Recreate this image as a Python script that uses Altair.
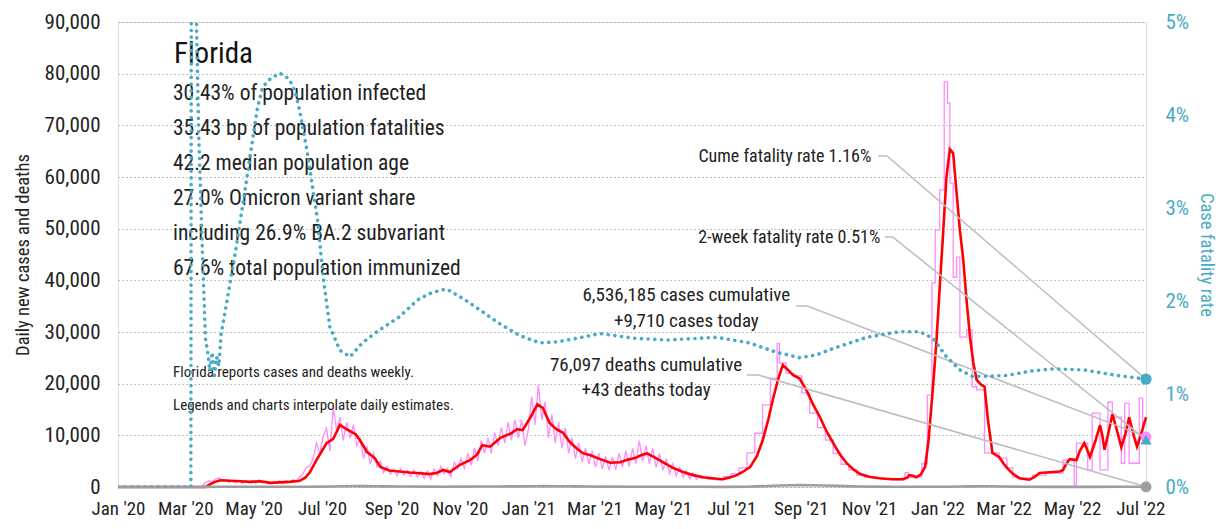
import altair as alt
import pandas as pd

START = pd.Timestamp("2020-01-01")


def to_dates(days):
    return [(START + pd.Timedelta(days=int(d))).strftime("%Y-%m-%d") for d in days]


# ---------------- data (day offset from 2020-01-01, value) ----------------
# 7-day average of daily new cases (red)
avg_points = [
    (0, 0), (78, 0), (82, 500), (86, 950), (91, 1300), (100, 1200), (109, 1100), (118, 1000),
    (127, 1100), (136, 800), (144, 900), (153, 1000), (162, 1200), (167, 1800), (171, 2800),
    (177, 5200), (182, 7000), (186, 8500), (192, 9300), (198, 12000), (203, 11300), (207, 10800),
    (212, 10200), (216, 9000), (222, 6800), (229, 5600), (234, 3900), (242, 3200), (251, 3000),
    (260, 2800), (267, 2700), (278, 2500), (284, 2700), (290, 3300), (296, 2900), (305, 4300),
    (314, 5200), (320, 6200), (325, 8100), (332, 7800), (341, 9500), (350, 10300), (356, 11200),
    (361, 11000), (368, 13500), (374, 16000), (379, 15300), (385, 12400), (391, 11200),
    (397, 10500), (403, 8700), (409, 7500), (415, 6500), (421, 6200), (430, 5400), (439, 4700),
    (448, 4800), (455, 5300), (461, 5600), (467, 6200), (472, 6500), (479, 5700), (486, 4800),
    (495, 3700), (504, 2900), (513, 2300), (522, 1900), (530, 1700), (539, 1500), (545, 1800),
    (552, 2300), (558, 3000), (564, 3900), (570, 6000), (575, 9000), (580, 13000), (584, 16800),
    (589, 21000), (593, 23600), (597, 22800), (602, 21700), (608, 21000), (614, 18800),
    (620, 16000), (626, 13600), (632, 10800), (638, 8500), (644, 6300), (650, 4600), (656, 3400),
    (662, 2500), (670, 2000), (679, 1700), (690, 1500), (700, 1500), (704, 1800), (706, 2300),
    (709, 2200), (712, 1900), (716, 2400), (720, 3900), (723, 9000), (727, 19400), (730, 28000),
    (733, 38700), (736, 49000), (739, 60000), (742, 65400), (745, 64600), (748, 57000),
    (751, 49700), (754, 43900), (757, 36000), (760, 29000), (763, 24000), (766, 20700),
    (770, 19800), (773, 19400), (776, 13000), (780, 6600), (783, 6200), (786, 5800), (790, 4500),
    (793, 3700), (798, 2600), (804, 1700), (813, 1400), (818, 2000), (822, 2700), (828, 2800),
    (834, 2900), (840, 3000), (843, 3300), (846, 4500), (849, 5400), (852, 5300), (855, 5200),
    (858, 7000), (862, 8500), (864, 7500), (867, 5800), (872, 9000), (876, 12000), (878, 10000),
    (880, 7200), (884, 11000), (887, 14100), (891, 11000), (895, 7700), (899, 10500),
    (902, 13500), (906, 10000), (909, 7800), (913, 10500), (917, 13500),
]

# daily new cases while reported daily (pink)
daily_points = [
    (0, 0), (74, 0), (75, 200), (78, 800), (81, 1200), (84, 1000), (87, 1500), (90, 1800),
    (93, 1200), (96, 1400), (99, 900), (102, 1300), (105, 800), (108, 1300), (111, 700),
    (114, 1200), (117, 900), (120, 1300), (123, 700), (126, 1400), (129, 800), (132, 1100),
    (135, 600), (138, 1000), (141, 700), (144, 1200), (147, 700), (150, 1300), (153, 900),
    (156, 1400), (159, 1100), (162, 1900), (165, 2600), (168, 3800), (171, 4000), (174, 5500),
    (177, 8500), (180, 6500), (183, 9800), (186, 11400), (189, 7000), (192, 15300), (195, 11000),
    (198, 13500), (201, 9000), (204, 12500), (207, 9500), (210, 12000), (213, 8000), (216, 9500),
    (219, 5500), (222, 8000), (225, 4500), (228, 6500), (231, 4000), (234, 5000), (237, 2800),
    (240, 4000), (243, 2500), (246, 3400), (249, 2200), (252, 3600), (255, 2300), (258, 3200),
    (261, 2000), (264, 3300), (267, 1900), (270, 3000), (273, 1700), (276, 3100), (279, 1500),
    (282, 3500), (285, 2200), (288, 4000), (291, 2500), (294, 3600), (297, 2000), (300, 4800),
    (303, 3500), (306, 5500), (309, 3600), (312, 6500), (315, 4200), (318, 7500), (321, 5000),
    (324, 9000), (327, 6500), (330, 9500), (333, 6500), (336, 10500), (339, 8000), (342, 11500),
    (345, 8500), (348, 12500), (351, 9000), (354, 13000), (357, 9500), (360, 13000), (363, 8000),
    (366, 11000), (369, 17500), (372, 12000), (375, 19800), (378, 13000), (381, 16500),
    (384, 9500), (387, 14000), (390, 8500), (393, 12500), (396, 7500), (399, 11500), (402, 6500),
    (405, 9500), (408, 5500), (411, 8500), (414, 4800), (417, 7500), (420, 4500), (423, 7000),
    (426, 3800), (429, 6500), (432, 3500), (435, 6000), (438, 3200), (441, 5800), (444, 3300),
    (447, 6500), (450, 3800), (453, 7000), (456, 4000), (459, 7500), (462, 4500), (465, 9000),
    (468, 5000), (471, 8000), (474, 4500), (477, 7500), (480, 3800), (483, 6500), (486, 3200),
    (489, 5500), (492, 2600), (495, 4500), (498, 2200), (501, 3800), (504, 1900), (507, 3200),
    (510, 1600), (513, 2700), (516, 1500), (519, 2200),
]

# daily new cases once reported weekly (pink, stepped)
weekly_points = [
    (519, 1700), (526, 1500), (533, 1400), (540, 2000), (547, 2600), (554, 3700), (561, 6600),
    (568, 10400), (575, 15900), (582, 21000), (588, 27800), (590, 24000), (596, 22000),
    (603, 21500), (610, 18200), (617, 14300), (624, 11500), (631, 9100), (638, 6500),
    (645, 4400), (652, 3300), (659, 2300), (666, 1900), (673, 1700), (680, 1600), (687, 1500),
    (694, 1400), (702, 2800), (705, 1800), (712, 1900), (717, 4500), (722, 17800), (726, 39500),
    (729, 49700), (733, 57500), (737, 78400), (740, 74300), (742, 58800), (745, 40600),
    (748, 44500), (751, 29000), (757, 30400), (762, 19400), (766, 18800), (773, 6600),
    (786, 5600), (793, 3700), (798, 1900), (804, 1700), (816, 2300), (828, 2700), (843, 5200),
    (853, 400), (855, 8500), (865, 3300), (869, 14300), (876, 3300), (883, 16400), (887, 13500),
    (895, 4600), (898, 16200), (902, 4600), (911, 17200), (914, 10400), (917, 10400),
]

# daily deaths (grey)
death_points = [
    (0, 0), (66, 0), (70, 10), (80, 30), (90, 45), (100, 50), (110, 45), (120, 40), (130, 45),
    (140, 35), (150, 40), (160, 35), (170, 40), (180, 70), (190, 110), (200, 150), (210, 180),
    (220, 170), (230, 150), (240, 120), (250, 100), (260, 90), (270, 80), (280, 70), (290, 60),
    (300, 70), (310, 80), (320, 90), (330, 100), (340, 110), (350, 120), (360, 130), (370, 150),
    (380, 160), (390, 150), (400, 140), (410, 120), (420, 100), (430, 80), (440, 70), (460, 60),
    (480, 60), (500, 50), (520, 40), (540, 30), (560, 60), (570, 120), (580, 200), (590, 300),
    (600, 350), (610, 380), (620, 350), (630, 300), (640, 230), (650, 160), (660, 110),
    (670, 70), (690, 45), (710, 35), (730, 40), (740, 60), (750, 100), (760, 130), (770, 150),
    (780, 140), (790, 100), (800, 70), (810, 50), (830, 30), (850, 25), (870, 30), (890, 35),
    (917, 43),
]

# case fatality rate, percent (teal dotted, right axis)
cfr_points = [
    (0, 0), (65, 0), (66, 14), (69, 14), (70, 5.0), (72, 3.8), (75, 2.65), (78, 1.6), (80, 1.45),
    (82, 1.25), (84, 1.45), (86, 1.2), (88, 1.4), (90, 1.3), (92, 1.65), (95, 1.85), (100, 2.2),
    (106, 2.62), (115, 3.33), (124, 4.05), (129, 4.3), (135, 4.38), (140, 4.42), (144, 4.45),
    (149, 4.42), (153, 4.38), (158, 4.25), (162, 4.05), (169, 3.59), (178, 2.87), (183, 2.26),
    (189, 1.72), (198, 1.47), (207, 1.40), (218, 1.55), (231, 1.67), (251, 1.83), (267, 2.01),
    (280, 2.09), (293, 2.13), (310, 2.01), (340, 1.76), (358, 1.63), (376, 1.55), (391, 1.56),
    (410, 1.60), (430, 1.65), (460, 1.60), (490, 1.58), (534, 1.61), (563, 1.55), (587, 1.45),
    (608, 1.39), (623, 1.42), (638, 1.49), (668, 1.61), (697, 1.67), (715, 1.67), (727, 1.60),
    (739, 1.40), (751, 1.26), (762, 1.19), (775, 1.19), (793, 1.20), (816, 1.25), (834, 1.27),
    (861, 1.26), (891, 1.20), (917, 1.16),
]

LAST_DAY = 917
CUME_CFR = 1.16
TWO_WEEK_CFR = 0.51
CASES_TODAY = 9710
DEATHS_TODAY = 43
Y_MAX = 90000
CFR_MAX = 5

stats_lines = [
    "30.43% of population infected",
    "35.43 bp of population fatalities",
    "42.2 median population age",
    "27.0% Omicron variant share",
    "including 26.9% BA.2 subvariant",
    "67.6% total population immunized",
]
note_lines = [
    "Florida reports cases and deaths weekly.",
    "Legends and charts interpolate daily estimates.",
]
tick_months = [(2020, m) for m in (1, 3, 5, 7, 9, 11)] + \
              [(2021, m) for m in (1, 3, 5, 7, 9, 11)] + [(2022, m) for m in (1, 3, 5, 7)]


def frame(points):
    days = [p[0] for p in points]
    vals = [p[1] for p in points]
    return pd.DataFrame({"date": to_dates(days), "value": vals})


FONT = "Liberation Sans Narrow, Roboto Condensed, DejaVu Sans Condensed, sans-serif"
TEAL = "#48abc6"
PINK = "#ff8cff"
RED = "#ff0000"
GREY = "#9e9e9e"
LEADER = "#bdbdbd"
INK = "#222222"

x_enc = alt.X(
    "date:T",
    title=None,
    scale=alt.Scale(
        type="utc",
        domain=[alt.DateTime(year=2020, month=1, date=1, utc=True),
                alt.DateTime(year=2022, month=7, date=6, utc=True)],
    ),
    axis=alt.Axis(
        values=[alt.DateTime(year=y, month=m, date=1, utc=True) for y, m in tick_months],
        format="%b '%y", labelFontSize=19, labelColor=INK, labelPadding=12,
        labelOverlap=False, labelFlush=False,
        grid=False, domain=False, ticks=False, tickSize=0, labelFont=FONT,
    ),
)
y_left = alt.Y(
    "value:Q",
    scale=alt.Scale(domain=[0, Y_MAX], nice=False),
    axis=alt.Axis(
        values=list(range(0, Y_MAX + 1, 10000)), format=",d", title="Daily new cases and deaths",
        titleFontSize=18.5, titleFontWeight="normal", titleColor=INK, titlePadding=12,
        labelFontSize=21, labelColor=INK, labelPadding=18, domain=False, ticks=False,
        tickSize=0, grid=True, gridColor="#b0b0b0", gridDash=[1.5, 2.5], gridWidth=1,
        labelFont=FONT, titleFont=FONT, labelOverlap=False,
    ),
)

daily_df = frame(daily_points)
weekly_df = frame(weekly_points)
avg_df = frame(avg_points)
death_df = frame(death_points)
cfr_df = frame(cfr_points)
one_row = pd.DataFrame({"k": [0]})

pink_daily = alt.Chart(daily_df).mark_line(color=PINK, strokeWidth=1.3).encode(x=x_enc, y=y_left)
pink_weekly = alt.Chart(weekly_df).mark_line(color=PINK, strokeWidth=1.3, interpolate="step-after").encode(
    x=x_enc, y=y_left)
red_line = alt.Chart(avg_df).mark_line(color=RED, strokeWidth=2.6).encode(x=x_enc, y=y_left)
grey_line = alt.Chart(death_df).mark_line(color=GREY, strokeWidth=2.6).encode(x=x_enc, y=y_left)


# conversion of a fatality rate into left-axis units (both axes share the plot height)
def cfr_to_left(v):
    return v / CFR_MAX * Y_MAX


# leader lines: text end -> bend -> marker
leader_rows = []
leaders = [
    ("cume", [(678, 64060), (686, 64060), (LAST_DAY, cfr_to_left(CUME_CFR))]),
    ("two", [(684, 48380), (691, 48380), (LAST_DAY, cfr_to_left(TWO_WEEK_CFR))]),
    ("cases", [(605, 35030), (615, 35030), (LAST_DAY, CASES_TODAY)]),
    ("deaths", [(561, 21680), (571, 21680), (LAST_DAY, DEATHS_TODAY)]),
]
for name, pts in leaders:
    for i, (d, v) in enumerate(pts):
        leader_rows.append({"id": name, "order": i, "date": to_dates([d])[0], "value": v})
leader_df = pd.DataFrame(leader_rows)
leader_lines = alt.Chart(leader_df).mark_line(color=LEADER, strokeWidth=1.5).encode(
    x=x_enc, y=y_left, detail="id:N", order="order:Q")

right_labels = pd.DataFrame({
    "date": to_dates([672, 680]),
    "value": [63870, 48190],
    "label": [f"Cume fatality rate {CUME_CFR:.2f}%", f"2-week fatality rate {TWO_WEEK_CFR:.2f}%"],
})
center_labels = pd.DataFrame({
    "date": to_dates([507, 507, 471, 471]),
    "value": [37160, 32130, 23610, 18770],
    "label": ["6,536,185 cases cumulative", f"+{CASES_TODAY:,} cases today",
              "76,097 deaths cumulative", f"+{DEATHS_TODAY} deaths today"],
})
txt_right = alt.Chart(right_labels).mark_text(
    align="right", baseline="middle", fontSize=18, font=FONT, color=INK).encode(
    x=x_enc, y=y_left, text="label:N")
txt_center = alt.Chart(center_labels).mark_text(
    align="center", baseline="middle", fontSize=19, font=FONT, color=INK).encode(
    x=x_enc, y=y_left, text="label:N")

title_txt = alt.Chart(one_row).mark_text(
    align="left", baseline="alphabetic", fontSize=29, font=FONT, color="#111111").encode(
    x=alt.value(56), y=alt.value(41), text=alt.value("Florida"))
stats_txt = alt.Chart(one_row).mark_text(
    align="left", baseline="alphabetic", fontSize=21.5, font=FONT, color=INK, lineHeight=35).encode(
    x=alt.value(55), y=alt.value(78), text=alt.value(stats_lines))
note_txt = alt.Chart(one_row).mark_text(
    align="left", baseline="alphabetic", fontSize=15, font=FONT, color=INK, lineHeight=33).encode(
    x=alt.value(55), y=alt.value(355), text=alt.value(note_lines))

end_left = pd.DataFrame({
    "date": to_dates([LAST_DAY, LAST_DAY]),
    "value": [DEATHS_TODAY, CASES_TODAY],
    "kind": ["deaths", "cases"],
})
end_left_pts = alt.Chart(end_left).mark_point(filled=True, size=120, opacity=1).encode(
    x=x_enc, y=y_left,
    color=alt.Color("kind:N", scale=alt.Scale(domain=["deaths", "cases"], range=[GREY, PINK]), legend=None))

left_group = alt.layer(
    pink_daily, pink_weekly, red_line, grey_line, leader_lines, txt_right, txt_center,
    title_txt, stats_txt, note_txt, end_left_pts,
)

y_right = alt.Y(
    "value:Q",
    scale=alt.Scale(domain=[0, CFR_MAX], nice=False),
    axis=alt.Axis(
        orient="right", values=[0, 1, 2, 3, 4, 5], labelExpr="datum.value + '%'",
        title="Case fatality rate", titleFontSize=18.5, titleFontWeight="normal", titleColor=TEAL,
        titlePadding=8, labelFontSize=21, labelColor=TEAL, labelPadding=19, domain=False,
        ticks=False, tickSize=0, grid=False, labelFont=FONT, titleFont=FONT,
    ),
)
cfr_line = alt.Chart(cfr_df).mark_line(
    color=TEAL, strokeWidth=3.6, strokeDash=[0.1, 6.6], strokeCap="round", clip=True).encode(
    x=x_enc, y=y_right)
end_right = pd.DataFrame({
    "date": to_dates([LAST_DAY, LAST_DAY]),
    "value": [CUME_CFR, TWO_WEEK_CFR],
    "kind": ["cume", "two"],
})
end_right_pts = alt.Chart(end_right).mark_point(filled=True, size=130, opacity=1, color=TEAL).encode(
    x=x_enc, y=y_right,
    shape=alt.Shape("kind:N", scale=alt.Scale(domain=["cume", "two"], range=["circle", "triangle-up"]),
                    legend=None))
right_group = alt.layer(cfr_line, end_right_pts)

chart = alt.layer(left_group, right_group).resolve_scale(y="independent").properties(
    width=1028, height=465,
    autosize=alt.AutoSizeParams(type="none"),
    padding={"left": 110, "top": 14, "right": 78, "bottom": 34},
    background="white",
).configure_view(stroke=None).configure(font=FONT)

chart.save("out.html", embed_options={"renderer": "svg", "actions": False})
